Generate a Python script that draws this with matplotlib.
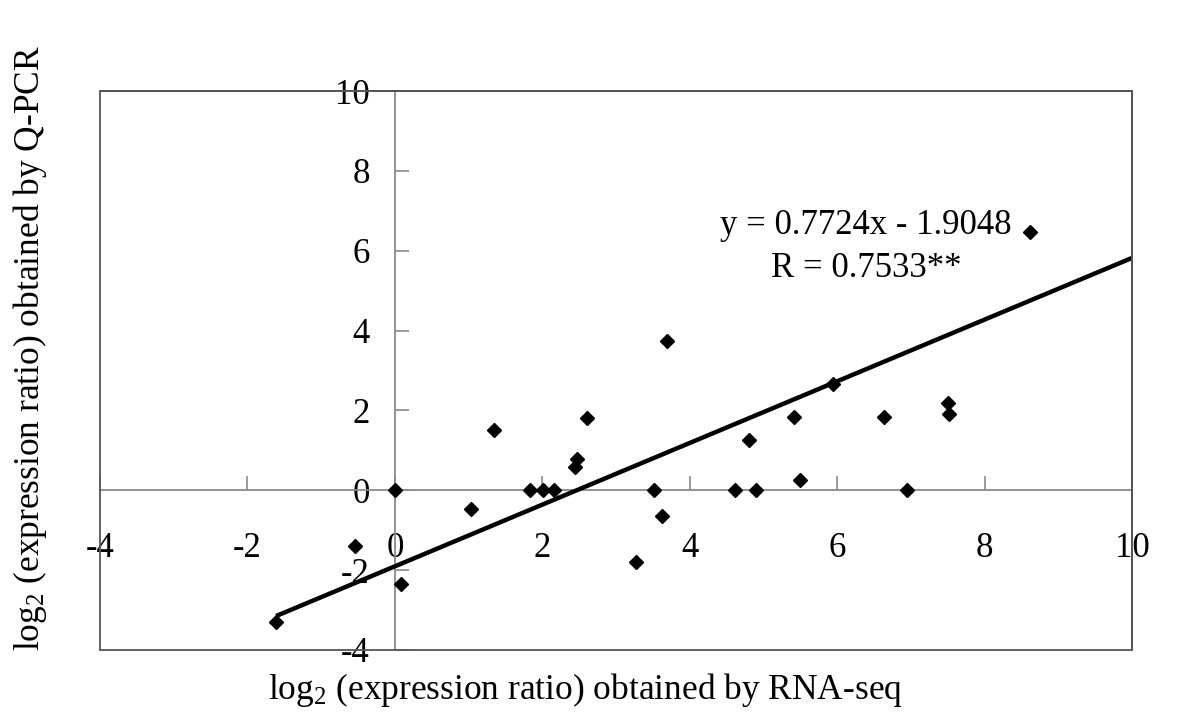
import matplotlib.pyplot as plt
from matplotlib.patches import Rectangle
import numpy as np

plt.rcParams['font.family'] = ['Liberation Serif', 'DejaVu Serif']
plt.rcParams['mathtext.fontset'] = 'custom'
plt.rcParams['mathtext.rm'] = 'Liberation Serif'
plt.rcParams['mathtext.it'] = 'Liberation Serif:italic'
plt.rcParams['axes.unicode_minus'] = False

# log2 ratios
rna_seq = [8.62, 5.94, 7.50, 7.52, 6.64, 5.42, 4.80, 5.50, 3.69, 2.60,
           1.34, 2.47, 2.44, 1.83, 2.01, 2.16, 0.0, 1.03, 3.52, 3.63,
           4.62, 4.90, 6.95, 3.27, -0.54, 0.09, -1.61]
qpcr = [6.46, 2.67, 2.19, 1.90, 1.84, 1.84, 1.25, 0.27, 3.74, 1.80,
        1.52, 0.79, 0.58, 0.0, 0.0, 0.0, 0.0, -0.48, 0.0, -0.65,
        0.0, 0.0, 0.0, -1.80, -1.40, -2.34, -3.30]

slope = 0.7724
intercept = -1.9048
ticks = [-4, -2, 0, 2, 4, 6, 8, 10]

fig = plt.figure(figsize=(12, 7.25), dpi=100)
ax = fig.add_axes([100/1200, 1 - 650/725, 1032/1200, 559/725])

ax.set_xlim(-4, 10)
ax.set_ylim(-4, 10)

# axes crossing at origin
ax.spines['left'].set_position(('data', 0))
ax.spines['bottom'].set_position(('data', 0))
for s in ['left', 'bottom']:
    ax.spines[s].set_color('#8a8a8a')
    ax.spines[s].set_linewidth(1.3)
for s in ['top', 'right']:
    ax.spines[s].set_color('#555555')
    ax.spines[s].set_linewidth(1.3)
ax.add_patch(Rectangle((0, 0), 1, 1, transform=ax.transAxes, fill=False,
                       edgecolor='#555555', linewidth=1.3, clip_on=False, zorder=5))

ax.set_xticks(ticks)
ax.set_yticks(ticks)
ax.tick_params(axis='x', direction='in', length=10, width=1.2, color='#8a8a8a',
               labelsize=25, pad=30)
ax.tick_params(axis='y', direction='in', length=10, width=1.2, color='#8a8a8a',
               labelsize=25, pad=18)

# trendline
xs = np.array([min(rna_seq), 10])
ax.plot(xs, slope * xs + intercept, color='black', linewidth=3.2, zorder=3,
        solid_capstyle='butt')

ax.plot(rna_seq, qpcr, linestyle='none', marker='D', markersize=7,
        color='black', zorder=4)

ax.text(6.39, 6.62, 'y = 0.7724x - 1.9048', fontsize=25, ha='center', va='center')
ax.text(6.39, 5.55, 'R = 0.7533**', fontsize=25, ha='center', va='center')

fig.text(585/1200, 1 - 690/725, r'log$_2$ (expression ratio) obtained by RNA-seq',
         fontsize=25.5, ha='center', va='center')
fig.text(30/1200, 1 - 348/725, r'log$_2$ (expression ratio) obtained by Q-PCR',
         fontsize=25.5, ha='center', va='center', rotation=90)

fig.savefig('out.png', dpi=100)
